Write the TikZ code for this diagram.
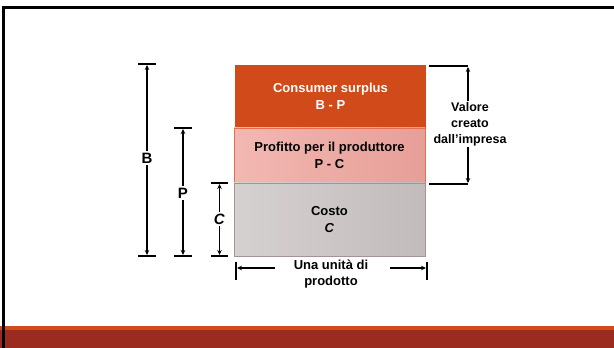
\documentclass[tikz,border=0pt]{standalone}
\usepackage{fontspec}
\setmainfont{Liberation Sans}
\usetikzlibrary{arrows.meta}
\definecolor{surplus}{HTML}{D14A1A}
\definecolor{profitL}{HTML}{F3B8B2}
\definecolor{profitR}{HTML}{E69F98}
\definecolor{profitEdge}{HTML}{E2704E}
\definecolor{costL}{HTML}{D6D1D1}
\definecolor{costR}{HTML}{C2BBBB}
\definecolor{costEdge}{HTML}{A39393}
\definecolor{barTop}{HTML}{D2491A}
\definecolor{barBottom}{HTML}{9B2B1F}
\tikzset{
  x=1pt, y=1pt,
  block/.style={minimum width=191pt, inner sep=0pt, outer sep=0pt, align=center, font=\bfseries\fontsize{13}{17}\selectfont},
  tick/.style={line width=1.4pt, black},
  dim/.style={line width=1.2pt, black, {Stealth[length=5pt,width=4.5pt]}-{Stealth[length=5pt,width=4.5pt]}},
  onearrow/.style={line width=1.2pt, black, -{Stealth[length=5pt,width=4.5pt]}},
  dimlabel/.style={fill=white, inner sep=2pt, font=\bfseries\fontsize{15}{17}\selectfont},
  note/.style={align=center, inner sep=1pt, font=\bfseries\fontsize{12.5}{16}\selectfont}
}
\begin{document}
\begin{tikzpicture}
\useasboundingbox (0,0) rectangle (614,348);
% slide frame and footer band
\fill[white] (0,0) rectangle (614,348);
\fill[barBottom] (0,0) rectangle (614,18);
\fill[barTop] (0,18) rectangle (614,22);
\draw[line width=2.5pt] (3.5,0) -- (3.5,340.5) -- (614,340.5);

% the three stacked blocks
\node[block, minimum height=63pt, fill=surplus, text=white, anchor=south west]
  (surplus) at (235,220) {Consumer surplus\\B - P};
\node[block, minimum height=55pt, left color=profitL, right color=profitR, draw=profitEdge, line width=0.8pt, anchor=south west]
  (profit) at (234,165) {Profitto per il produttore\\P - C};
\node[block, minimum height=73pt, left color=costL, right color=costR, draw=costEdge, line width=0.8pt, anchor=south west]
  (cost) at (234,92) {Costo\\\textit{C}};

% left dimension marks
\coordinate (bT) at (147,284); \coordinate (bB) at (147,92);
\coordinate (pT) at (183,220); \coordinate (pB) at (183,92);
\coordinate (cT) at (219.5,165); \coordinate (cB) at (219.5,92);
\draw[tick] ([xshift=-9pt]bT) -- ([xshift=9pt]bT);
\draw[tick] ([xshift=-9pt]bB) -- ([xshift=9pt]bB);
\draw[tick] ([xshift=-9pt]pT) -- ([xshift=9pt]pT);
\draw[tick] ([xshift=-9pt]pB) -- ([xshift=9pt]pB);
\draw[tick] ([xshift=-8.5pt]cT) -- ([xshift=8.5pt]cT);
\draw[tick] ([xshift=-8.5pt]cB) -- ([xshift=8.5pt]cB);
\draw[dim] ([yshift=-1pt]bT) -- ([yshift=1pt]bB);
\draw[dim] ([yshift=-1pt]pT) -- ([yshift=1pt]pB);
\draw[dim] ([yshift=-1pt]cT) -- ([yshift=1pt]cB);
\node[dimlabel] (bL) at (147,190) {B};
\node[dimlabel] (pL) at (183,155) {P};
\node[dimlabel] (cL) at (219.5,129) {\textit{C}};

% value created by the firm
\coordinate (vT) at (468,282); \coordinate (vB) at (468,164);
\draw[tick] (429,282) -- (vT);
\draw[tick] (429,164) -- (vB);
\draw[dim] ([yshift=-1pt]vT) -- ([yshift=1pt]vB);
\node[note, fill=white] (value) at (470,224) {Valore\\creato\\dall'impresa};

% width of one unit
\coordinate (uL) at (236,77); \coordinate (uR) at (427,77);
\draw[tick] (236,68) -- (236,86);
\draw[tick] (427,68) -- (427,86);
\node[note, font=\bfseries\fontsize{13}{16.5}\selectfont] (unit) at (331,74) {Una unità di\\prodotto};
\coordinate (uLs) at (275,80); \coordinate (uRs) at (390,80);
\draw[onearrow] (uLs) -- (237,80);
\draw[onearrow] (uRs) -- (426,80);
\end{tikzpicture}
\end{document}
